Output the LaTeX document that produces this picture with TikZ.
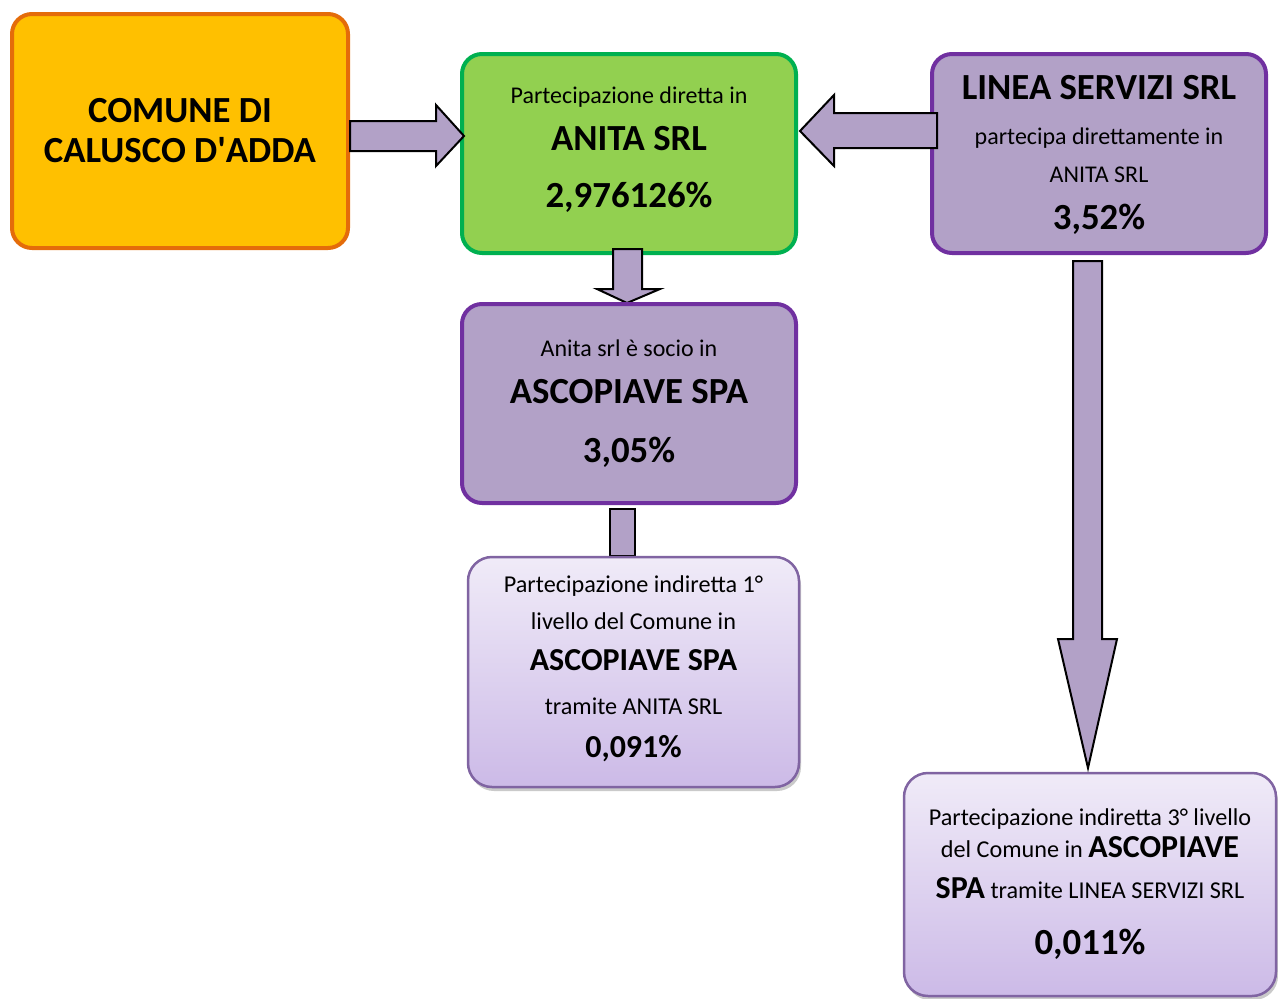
\documentclass[tikz,border=0pt]{standalone}
\usepackage{fontspec}
\setmainfont{Carlito}
\usetikzlibrary{calc,shadows}
\definecolor{arancio}{HTML}{FFC000}
\definecolor{aranciobordo}{HTML}{E46C0A}
\definecolor{verde}{HTML}{92D050}
\definecolor{verdebordo}{HTML}{00B050}
\definecolor{lilla}{HTML}{B2A1C7}
\definecolor{viola}{HTML}{7030A0}
\definecolor{violachiaro}{HTML}{8064A2}
\newcommand{\fsz}[2]{\fontsize{#1}{#2}\selectfont\lineskiplimit=-100pt\relax}
\newcommand{\titolo}{\bfseries\fontsize{36.8}{40}\selectfont}
\newcommand{\medio}{\bfseries\fontsize{32}{36}\selectfont}
\begin{document}
\begin{tikzpicture}[x=1pt,y=-1pt,
  box/.style={rectangle,rounded corners=20pt,line width=4pt,draw,align=center,inner sep=0pt,minimum width=334pt,minimum height=199pt},
  comunebox/.style={box,fill=arancio,draw=aranciobordo,minimum width=336pt,minimum height=234pt,font=\titolo},
  anitabox/.style={box,fill=verde,draw=verdebordo},
  socbox/.style={box,fill=lilla,draw=viola},
  indbox/.style={rectangle,rounded corners=24pt,line width=2.5pt,draw=violachiaro,align=center,inner sep=0pt,
    top color={rgb,255:red,240;green,235;blue,248},bottom color={rgb,255:red,204;green,186;blue,231},
    drop shadow={shadow xshift=2pt,shadow yshift=-4pt,opacity=0.35,fill=black!60}},
  blockarrow/.style={fill=lilla,draw=black,line width=2pt,line join=miter}]
\useasboundingbox (0,0) rectangle (1278,999);
\clip (0,0) rectangle (1278,999);

\node[comunebox] (comune) at (180,131) {COMUNE DI\\CALUSCO D\textquotesingle ADDA};
\node[anitabox,font=\fsz{24}{49},text depth=13pt] (anita) at (629,153.5)
  {Partecipazione diretta in\\[-2pt]{\titolo ANITA SRL}\\[8pt]{\titolo 2,976126\%}};
\node[socbox,font=\fsz{24}{37},text depth=2pt] (linea) at (1099,153.5)
  {{\titolo LINEA SERVIZI SRL}\\[8pt]partecipa direttamente in\\[1pt]{\fontsize{24}{28}\selectfont ANITA SRL}\\[10pt]{\titolo 3,52\%}};

\draw[blockarrow] ($(anita.south)+(-16,-6)$) -- ++(29,0) -- ++(0,40) -- ++(18,0) -- ++(-33,14) -- ++(-30,-14) -- ++(16,0) -- cycle;
\draw[blockarrow] ($(anita.south)+(-19,254)$) rectangle ++(25,47);

\node[socbox,font=\fsz{24}{47}] (ascopiave) at (629,403.5)
  {Anita srl è socio in\\{\titolo ASCOPIAVE SPA}\\[12pt]{\titolo 3,05\%}};
\node[indbox,minimum width=331pt,minimum height=230pt,font=\fsz{24.2}{37},text depth=11pt] (indiretto1) at (633.5,672)
  {Partecipazione indiretta 1°\\[0pt]livello del Comune in\\[4pt]{\medio ASCOPIAVE SPA}\\[7pt]tramite ANITA SRL\\[6pt]{\medio 0,091\%}};
\node[indbox,minimum width=372pt,minimum height=223pt,font=\fsz{24.2}{35}] (indiretto3) at (1090,884.5)
  {Partecipazione indiretta 3° livello\\[-3pt]del Comune in {\medio ASCOPIAVE}\\[6pt]{\medio SPA} tramite LINEA SERVIZI SRL\\[21pt]{\titolo 0,011\%}};

\draw[blockarrow] ($(comune.east)+(0,-10)$) -- ++(86,0) -- ++(0,-16) -- ++(28,31) -- ++(-28,30) -- ++(0,-15) -- ++(-86,0) -- cycle;
\draw[blockarrow] ($(linea.west)+(7,-40.5)$) -- ++(-103,0) -- ++(0,-18) -- ++(-34,36) -- ++(34,35) -- ++(0,-18) -- ++(103,0) -- cycle;
\draw[blockarrow] ($(linea.south)+(-26,6)$) -- ++(29,0) -- ++(0,378) -- ++(15,0) -- ++(-29,129) -- ++(-30,-129) -- ++(15,0) -- cycle;
\end{tikzpicture}
\end{document}
